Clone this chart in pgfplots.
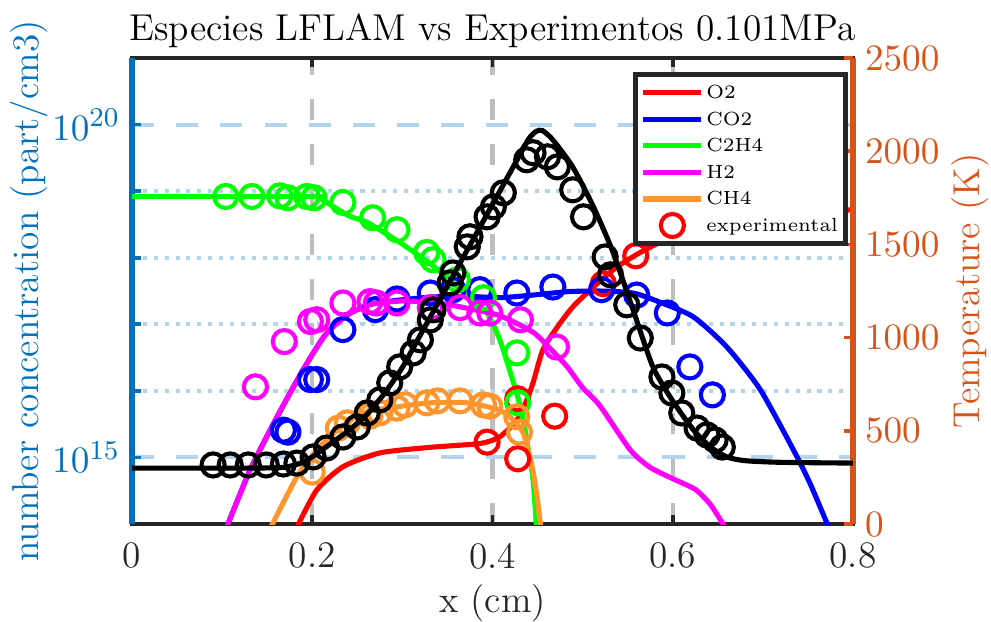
\documentclass[border=0pt]{standalone}
\usepackage{pgfplots}
\pgfplotsset{compat=1.18}
\usetikzlibrary{calc}
\definecolor{mblue}{RGB}{0,114,189}
\definecolor{morange}{RGB}{217,83,25}
\definecolor{axgray}{RGB}{38,38,38}
\definecolor{gridblue}{RGB}{178,213,235}
\definecolor{gridgray}{RGB}{190,190,190}
\definecolor{cgreen}{RGB}{0,255,0}
\definecolor{cred}{RGB}{255,0,0}
\definecolor{cblue}{RGB}{0,0,255}
\definecolor{cmag}{RGB}{255,0,255}
\definecolor{corange}{RGB}{255,150,45}
\newcommand{\fs}{\fontsize{11}{13}\selectfont}
\pgfplotsset{
  common/.style={scale only axis, width=212.06pt, height=137.06pt,
    xmin=0, xmax=0.8, at={(0,0)}, anchor=south west,
    tick align=inside, major tick length=2.6pt, minor tick length=2.6pt,
    every tick label/.append style={font=\fs},
    label style={font=\fs},
    /pgf/number format/1000 sep={}},
  sim/.style={line width=1.5pt, no marks, smooth, tension=0.4},
  exper/.style={only marks, mark=o, mark size=3.4pt, line width=1.2pt, mark options={solid}},
}
\begin{document}
\begin{tikzpicture}
% ---- frame, x ticks, vertical grid, title
\begin{axis}[common, name=ax, ymin=0, ymax=1, ytick=\empty,
  xtick={0,0.2,0.4,0.6,0.8}, xticklabels={0,0.2,0.4,0.6,0.8},
  xtick pos=both,
  xmajorgrids,
  major grid style={gridgray, line width=1.2pt, dash pattern=on 6.2pt off 7pt},
  axis line style={axgray, line width=1.4pt},
  tick style={axgray, line width=1.1pt},
  xticklabel style={text=axgray, yshift=-2pt},
  xlabel={x (cm)},
  xlabel style={at={(axis description cs:0.5,-0.1695)}, anchor=center, text=axgray},
  title={Especies LFLAM vs Experimentos 0.101MPa},
  title style={at={(axis description cs:0.5,1.014)}, anchor=center, font=\fs},
]
\end{axis}
% ---- left axis: species (log)
\begin{axis}[common, ymode=log, ymin=1e14, ymax=1e21,
  ytick={1e15,1e20}, minor ytick={1e16,1e17,1e18,1e19},
  ymajorgrids, yminorgrids,
  major grid style={gridblue, line width=1.2pt, dash pattern=on 6.5pt off 6.5pt},
  minor grid style={gridblue, line width=1.2pt, dash pattern=on 1.2pt off 2pt},
  axis x line=none, xtick=\empty,
  axis y line*=left, ytick pos=left,
  y axis line style={mblue, line width=1.9pt},
  tick style={mblue, line width=1.1pt},
  minor tick style={mblue, line width=1.1pt},
  yticklabel style={text=mblue},
  ylabel={number concentration (part/cm3)},
  ylabel style={at={(axis description cs:-0.143,0.5)}, anchor=center, text=mblue},
]
% simulations
\addplot[sim, cred] coordinates {
(0.183,8.91e13) (0.205,3.24e14) (0.234,7.24e14) (0.275,1.17e15) (0.331,1.42e15)
(0.386,1.62e15) (0.408,2.04e15) (0.427,3.63e15) (0.438,7.24e15) (0.445,1.32e16)
(0.456,4.17e16) (0.472,9.12e16) (0.489,1.82e17) (0.512,3.63e17) (0.538,7.24e17)
(0.564,1.20e18) (0.60,2.09e18) (0.65,3.31e18) (0.70,4.27e18) (0.75,4.90e18) (0.80,5.25e18)};
\addplot[sim, cblue] coordinates {
(0.105,8.91e13) (0.131,6.46e14) (0.161,4.07e15) (0.190,2.09e16) (0.215,7.08e16)
(0.240,1.41e17) (0.265,2.00e17) (0.294,2.29e17) (0.334,2.57e17) (0.372,2.63e17)
(0.408,2.51e17) (0.445,2.75e17) (0.483,3.09e17) (0.519,3.16e17) (0.556,2.95e17)
(0.586,2.14e17) (0.623,1.29e17) (0.660,4.57e16) (0.697,1.05e16) (0.734,1.29e15)
(0.752,4.17e14) (0.770,1.12e14) (0.775,7.94e13)};
\addplot[sim, cgreen] coordinates {
(0,8.32e18) (0.20,8.32e18) (0.21,7.59e18) (0.223,5.89e18) (0.242,4.17e18)
(0.261,3.39e18) (0.297,1.70e18) (0.327,8.91e17) (0.342,6.17e17) (0.36,3.72e17)
(0.375,2.51e17) (0.394,1.48e17) (0.408,5.89e16) (0.420,1.86e16) (0.431,5.75e15)
(0.438,1.82e15) (0.445,4.57e14) (0.449,7.94e13)};
\addplot[sim, cmag] coordinates {
(0.105,8.91e13) (0.131,6.46e14) (0.161,4.07e15) (0.190,2.09e16) (0.215,7.08e16)
(0.240,1.41e17) (0.265,2.00e17) (0.300,2.24e17) (0.340,2.09e17) (0.372,1.74e17)
(0.408,1.35e17) (0.445,7.59e16) (0.465,4.17e16) (0.483,2.29e16) (0.500,1.12e16)
(0.519,6.03e15) (0.553,1.29e15) (0.575,7.08e14) (0.600,4.79e14) (0.625,3.31e14)
(0.642,1.95e14) (0.658,8.91e13)};
\addplot[sim, corange] coordinates {
(0.154,8.91e13) (0.183,5.13e14) (0.205,1.29e15) (0.228,2.57e15) (0.256,4.68e15)
(0.294,5.75e15) (0.331,6.61e15) (0.372,6.61e15) (0.408,5.13e15) (0.423,3.63e15)
(0.434,2.34e15) (0.444,7.24e14) (0.450,2.29e14) (0.454,7.94e13)};
% experiments
\addplot[exper, cred] coordinates {
(0.394,1.70e15) (0.428,7.59e15) (0.428,9.55e14) (0.469,4.17e15) (0.523,4.07e17) (0.559,1.07e18)};
\addplot[exper, cblue] coordinates {
(0.168,2.57e15) (0.173,2.40e15) (0.198,1.48e16) (0.205,1.48e16) (0.234,8.32e16)
(0.270,1.66e17) (0.294,2.40e17) (0.331,2.95e17) (0.356,3.31e17) (0.386,3.31e17)
(0.427,2.95e17) (0.467,3.63e17) (0.521,3.31e17) (0.560,2.75e17) (0.594,1.48e17)
(0.619,2.29e16) (0.644,8.71e15)};
\addplot[exper, cgreen] coordinates {
(0.104,8.32e18) (0.133,8.32e18) (0.164,8.51e18) (0.173,7.94e18) (0.194,8.32e18)
(0.202,7.94e18) (0.234,6.76e18) (0.267,3.98e18) (0.294,2.63e18) (0.327,1.20e18)
(0.334,9.33e17) (0.361,4.68e17) (0.390,2.51e17) (0.427,3.72e16) (0.428,6.61e15)};
\addplot[exper, cmag] coordinates {
(0.137,1.15e16) (0.169,5.50e16) (0.198,1.10e17) (0.205,1.17e17) (0.234,2.09e17)
(0.264,2.19e17) (0.271,2.09e17) (0.294,2.09e17) (0.331,1.78e17) (0.364,1.78e17)
(0.386,1.48e17) (0.397,1.48e17) (0.431,1.17e17) (0.471,4.57e16)};
\addplot[exper, corange] coordinates {
(0.200,6.03e14) (0.229,2.75e15) (0.239,3.31e15) (0.264,4.17e15) (0.275,4.68e15)
(0.294,5.50e15) (0.303,6.17e15) (0.327,6.61e15) (0.339,7.08e15) (0.364,7.08e15)
(0.390,6.17e15) (0.397,5.89e15) (0.427,4.07e15) (0.430,2.40e15)};
\end{axis}
% ---- right axis: temperature
\begin{axis}[common, ymin=0, ymax=2500, ytick={0,500,1000,1500,2000,2500},
  axis x line=none, xtick=\empty,
  axis y line*=right, ytick pos=right, yticklabel pos=right,
  y axis line style={morange, line width=1.9pt},
  tick style={morange, line width=1.1pt},
  yticklabel style={text=morange},
  ylabel={Temperature (K)},
  ylabel style={at={(axis description cs:1.163,0.5)}, anchor=center, text=morange},
  legend cell align=left,
  legend style={at={(axis description cs:0.993,0.970)}, anchor=north east,
    draw=axgray, line width=1.5pt, fill=white, inner sep=1.5pt, row sep=0pt,
    font=\fontsize{5.6}{7}\selectfont,
    nodes={inner sep=0.7pt, text height=4.9pt, text depth=1.5pt}},
]
\addlegendimage{sim, cred}\addlegendentry{O2}
\addlegendimage{sim, cblue}\addlegendentry{CO2}
\addlegendimage{sim, cgreen}\addlegendentry{C2H4}
\addlegendimage{sim, cmag}\addlegendentry{H2}
\addlegendimage{sim, corange}\addlegendentry{CH4}
\addlegendimage{exper, cred}\addlegendentry{experimental}
\addplot[sim, black, forget plot] coordinates {
(0,300) (0.10,300) (0.15,301) (0.17,305) (0.186,325) (0.20,360) (0.223,440)
(0.24,500) (0.261,590) (0.28,700) (0.30,840) (0.316,980) (0.334,1137) (0.353,1304)
(0.372,1470) (0.390,1627) (0.408,1785) (0.427,1951) (0.440,2065) (0.448,2105)
(0.455,2112) (0.467,2061) (0.489,1916) (0.512,1702) (0.534,1455) (0.556,1149)
(0.578,843) (0.600,660) (0.623,505) (0.642,413) (0.660,360) (0.680,340)
(0.720,331) (0.800,327)};
\addplot[exper, black, forget plot] coordinates {
(0.090,317) (0.109,317) (0.129,317) (0.149,317) (0.168,322) (0.183,327)
(0.201,360) (0.216,408) (0.234,467) (0.250,521) (0.261,596) (0.275,666)
(0.286,757) (0.297,843) (0.312,918) (0.320,988) (0.331,1095) (0.334,1149)
(0.353,1294) (0.356,1347) (0.372,1487) (0.375,1541) (0.394,1648) (0.401,1702)
(0.412,1777) (0.438,1954) (0.445,1992) (0.461,1970) (0.472,1916) (0.489,1793)
(0.501,1648) (0.525,1433) (0.531,1337) (0.549,1176) (0.564,998) (0.588,789)
(0.599,703) (0.610,596) (0.627,515) (0.638,478) (0.647,451) (0.655,413)};
\end{axis}
\pgfresetboundingbox
\path ($(ax.south west)+(-38.82pt,-28.53pt)$) rectangle ($(ax.north east)+(40.59pt,17.06pt)$);
\end{tikzpicture}
\end{document}
